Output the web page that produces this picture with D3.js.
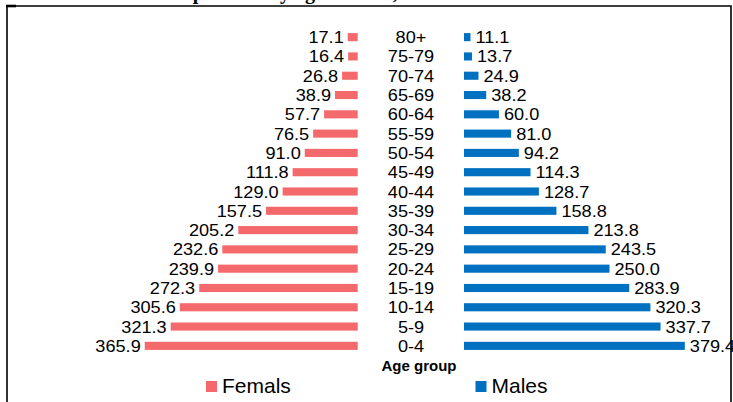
<!DOCTYPE html>
<html>
<head>
<meta charset="utf-8">
<script src="https://cdn.jsdelivr.net/npm/d3@7"></script>
<style>
  body { margin: 0; background: #fff; }
  svg { display: block; font-family: Arial, "Liberation Sans", sans-serif; }
</style>
</head>
<body>
<svg width="733" height="402"></svg>
<script>
// data (top row first)
const ageGroups = ["80+", "75-79", "70-74", "65-69", "60-64", "55-59", "50-54", "45-49",
  "40-44", "35-39", "30-34", "25-29", "20-24", "15-19", "10-14", "5-9", "0-4"];
const females = [17.1, 16.4, 26.8, 38.9, 57.7, 76.5, 91.0, 111.8, 129.0, 157.5, 205.2, 232.6, 239.9, 272.3, 305.6, 321.3, 365.9];
const males = [11.1, 13.7, 24.9, 38.2, 60.0, 81.0, 94.2, 114.3, 128.7, 158.8, 213.8, 243.5, 250.0, 283.9, 320.3, 337.7, 379.4];
const seriesNames = ["Femals", "Males"];
const seriesColors = ["#F4696B", "#0070C0"];

const svg = d3.select("svg"),
  width = +svg.attr("width"),
  height = +svg.attr("height");

// cut off title + frame
svg.append("text")
  .attr("x", 330).attr("y", -1)
  .attr("text-anchor", "middle")
  .style("font-family", "'Liberation Serif', 'Times New Roman', serif")
  .style("font-weight", "bold")
  .style("font-size", "20px")
  .text("Population by age and sex, thousands");

svg.append("path")
  .attr("d", "M7," + height + "V6H731V" + height)
  .attr("fill", "none")
  .attr("stroke", "#000")
  .attr("stroke-width", 1.6);
svg.append("line")
  .attr("x1", 6).attr("x2", 16).attr("y1", 6).attr("y2", 6)
  .attr("stroke", "#000").attr("stroke-width", 2.6);

// scales
const y = d3.scaleBand()
  .domain(ageGroups)
  .range([27.5, 355.5])
  .paddingInner(0.58)
  .paddingOuter(0.29);

const xF = d3.scaleLinear().domain([0, 400]).range([357.7, 124.9]);
const xM = d3.scaleLinear().domain([0, 400]).range([464, 696.8]);

const rows = ageGroups.map((a, i) => ({ age: a, f: females[i], m: males[i] }));
const mid = d => y(d.age) + y.bandwidth() / 2;
const numFmt = d3.format(".1f");

// females
svg.append("g").selectAll("rect")
  .data(rows).enter().append("rect")
  .attr("x", d => xF(d.f))
  .attr("y", d => y(d.age))
  .attr("width", d => xF(0) - xF(d.f))
  .attr("height", y.bandwidth())
  .attr("fill", seriesColors[0]);

svg.append("g").selectAll("text")
  .data(rows).enter().append("text")
  .attr("text-anchor", "end")
  .attr("transform", d => "translate(" + (xF(d.f) - 4) + "," + (mid(d) + 6) + ") scale(1.1,1)")
  .style("font-size", "16.5px")
  .attr("fill", "#000")
  .text(d => numFmt(d.f));

// males
svg.append("g").selectAll("rect")
  .data(rows).enter().append("rect")
  .attr("x", xM(0))
  .attr("y", d => y(d.age))
  .attr("width", d => xM(d.m) - xM(0))
  .attr("height", y.bandwidth())
  .attr("fill", seriesColors[1]);

svg.append("g").selectAll("text")
  .data(rows).enter().append("text")
  .attr("text-anchor", "start")
  .attr("transform", d => "translate(" + (xM(d.m) + 5) + "," + (mid(d) + 6) + ") scale(1.1,1)")
  .style("font-size", "16.5px")
  .attr("fill", "#000")
  .text(d => numFmt(d.m));

// age labels in the middle
svg.append("g").selectAll("text")
  .data(rows).enter().append("text")
  .attr("text-anchor", "middle")
  .attr("transform", d => "translate(411," + (mid(d) + 6) + ") scale(1.1,1)")
  .style("font-size", "16.5px")
  .text(d => d.age);

svg.append("text")
  .attr("x", 419).attr("y", 371)
  .attr("text-anchor", "middle")
  .style("font-size", "15px")
  .style("font-weight", "bold")
  .text("Age group");

// legend
const legend = svg.append("g").selectAll("g")
  .data(seriesNames).enter().append("g")
  .attr("transform", (d, i) => "translate(" + [206, 475.5][i] + ",381)");
legend.append("rect")
  .attr("width", 11).attr("height", 11)
  .attr("fill", (d, i) => seriesColors[i]);
legend.append("text")
  .attr("x", 16).attr("y", 12)
  .style("font-size", "21px")
  .text(d => d);
</script>
</body>
</html>
